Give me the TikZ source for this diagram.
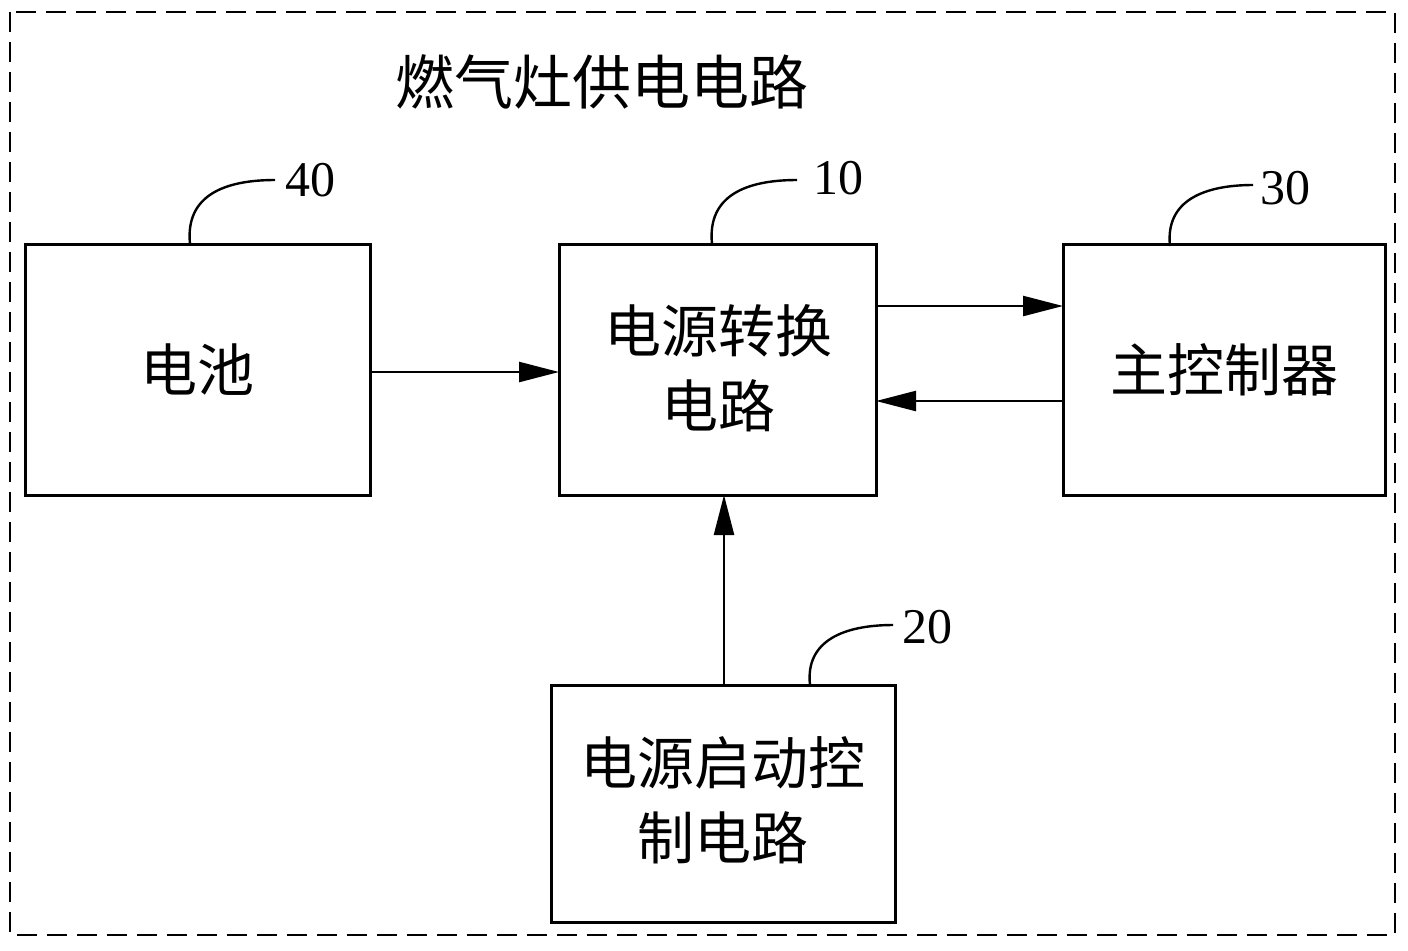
\documentclass[tikz,border=0pt]{standalone}
\usepackage{fontspec}
\setmainfont{Liberation Serif}
\newfontfamily\cjk{Noto Sans CJK SC}
\usetikzlibrary{arrows.meta}
\begin{document}
\begin{tikzpicture}[x=0.5pt,y=-0.5pt,
 box/.style={draw,line width=1.5pt},
 lbl/.style={font=\cjk\fontsize{28.5}{37.5}\selectfont,align=center},
 num/.style={font=\fontsize{25}{26}\selectfont},
 arr/.style={line width=1.2pt,-{Triangle[length=20pt,width=10pt]}},
 lead/.style={line width=1.2pt}]
\useasboundingbox (0,0) rectangle (1408,950);
\draw[line width=1.3pt,dash pattern=on 10pt off 5pt] (10,12) rectangle (1395,935);
\node[lbl,font=\cjk\fontsize{29.5}{32}\selectfont] (title) at (602,82) {燃气灶供电电路};
\draw[box] (25,244) rectangle (370,495); \node[lbl] (bat) at (197,370) {电池};
\draw[box] (559,244) rectangle (876,495); \node[lbl] (conv) at (718,368) {电源转换\\电路};
\draw[box] (1063,244) rectangle (1385,495); \node[lbl] (ctrl) at (1224,370) {主控制器};
\draw[box] (551,685) rectangle (895,922); \node[lbl] (st) at (723,800) {电源启动控\\制电路};
\coordinate (a1) at (370,372); \coordinate (a2) at (559,372);
\coordinate (b1) at (876,306); \coordinate (b2) at (1063,306);
\coordinate (c1) at (1063,401); \coordinate (c2) at (876,401);
\coordinate (d1) at (724,685); \coordinate (d2) at (724,495);
\draw[arr] (a1) -- (a2); \draw[arr] (b1) -- (b2); \draw[arr] (c1) -- (c2); \draw[arr] (d1) -- (d2);
\node[num] (n40) at (310,180) {40};
\node[num] (n10) at (838,178) {10};
\node[num] (n30) at (1285,188) {30};
\node[num] (n20) at (927,627) {20};
\draw[lead] (190,244) .. controls (185,195) and (225,180) .. (275,180);
\draw[lead] (712,244) .. controls (707,195) and (747,180) .. (797,180);
\draw[lead] (1170,246) .. controls (1165,200) and (1205,185) .. (1253,185);
\draw[lead] (810,685) .. controls (805,640) and (845,625) .. (893,625);
\end{tikzpicture}
\end{document}
